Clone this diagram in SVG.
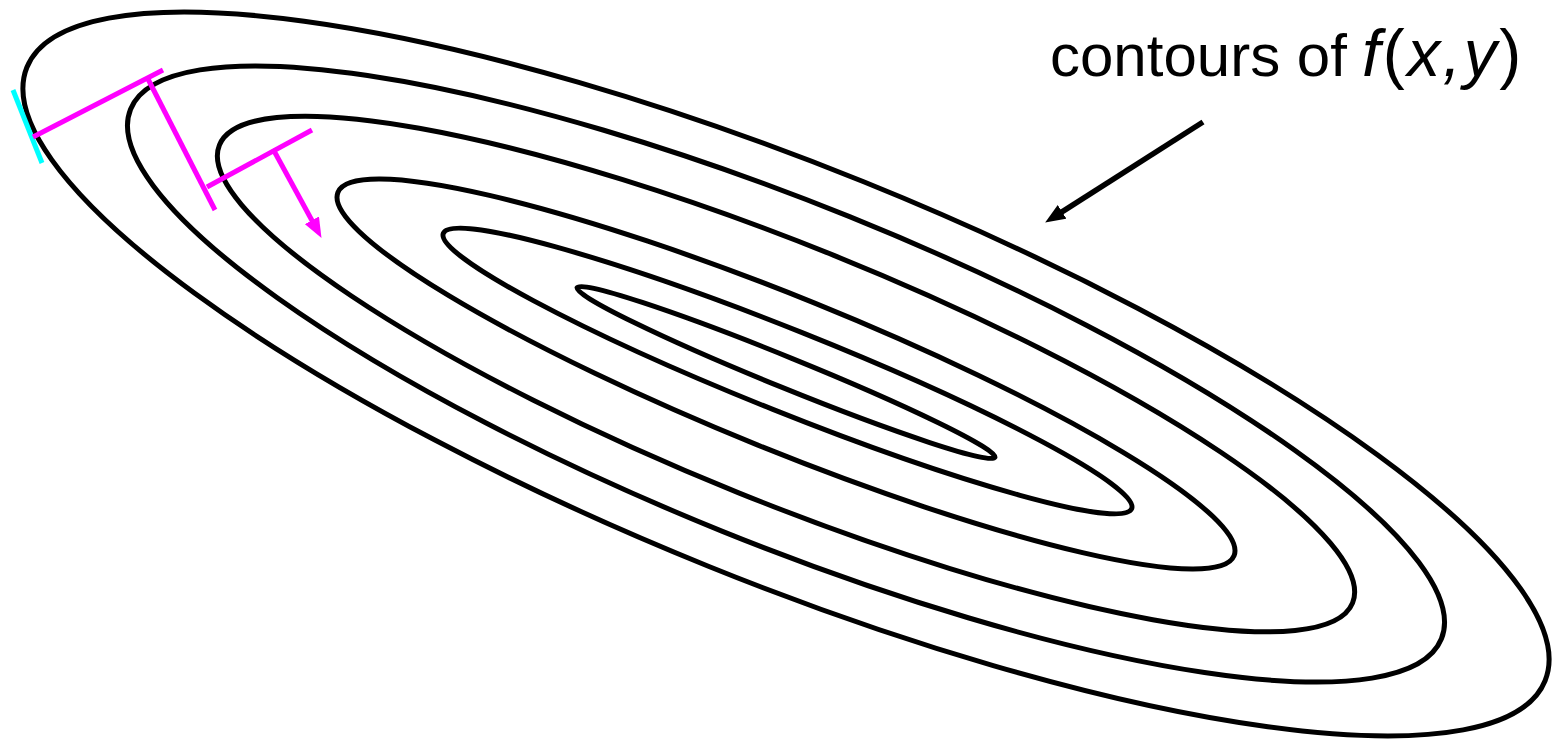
<svg xmlns="http://www.w3.org/2000/svg" width="1552" height="739" viewBox="0 0 1552 739">
<style>
.contour{fill:none;stroke:#000;stroke-width:5}
.step{stroke:#ff00ff;stroke-width:5;fill:none}
.tangent{stroke:#00ffff;stroke-width:5;fill:none}
.pointer{stroke:#000;stroke-width:5.5;fill:none}
.label{font-family:"Liberation Sans",Arial,sans-serif;fill:#000}
.words{font-size:60px}
.math{font-size:66px;letter-spacing:2.5px}
</style>
<defs>
<marker id="ahBlack" viewBox="0 0 20 16" markerWidth="20" markerHeight="16" refX="1" refY="8" orient="auto" markerUnits="userSpaceOnUse"><path d="M0,0 L20,8 L0,16 Z" fill="#000"/></marker>
<marker id="ahMag" viewBox="0 0 20 16" markerWidth="20" markerHeight="16" refX="1" refY="8" orient="auto" markerUnits="userSpaceOnUse"><path d="M0,0 L20,8 L0,16 Z" fill="#ff00ff"/></marker>
</defs>
<rect width="1552" height="739" fill="#fff"/>
<g id="contour-1"><ellipse class="contour" cx="786" cy="374" rx="818.7" ry="207.3" transform="rotate(22 786 374)"/></g>
<g id="contour-2"><ellipse class="contour" cx="786" cy="374" rx="706.9" ry="169.7" transform="rotate(22 786 374)"/></g>
<g id="contour-3"><ellipse class="contour" cx="786" cy="374" rx="611.1" ry="127.9" transform="rotate(22 786 374)"/></g>
<g id="contour-4"><ellipse class="contour" cx="786" cy="374" rx="483.5" ry="76.5" transform="rotate(22.07 786 374)"/></g>
<g id="contour-5"><ellipse class="contour" cx="787.5" cy="371" rx="370.7" ry="41.1" transform="rotate(21.8 787.5 371)"/></g>
<g id="contour-6"><ellipse class="contour" cx="786" cy="372.5" rx="225.5" ry="15.3" transform="rotate(22.1 786 372.5)"/></g>
<g id="tangent"><line class="tangent" x1="13" y1="90" x2="42" y2="163"/></g>
<g id="label"><text class="label words" x="1050" y="76">contours of</text><text class="label math" x="1362" y="76"><tspan font-style="italic">f</tspan>(<tspan font-style="italic">x,y</tspan>)</text></g>
<g id="connectors">
<line class="step" x1="33" y1="137" x2="163" y2="70"/>
<line class="step" x1="148" y1="79" x2="215" y2="210"/>
<line class="step" x1="207" y1="187" x2="312" y2="130"/>
<line class="step" x1="273" y1="149" x2="312.4" y2="221.2" marker-end="url(#ahMag)"/>
<line class="pointer" x1="1203" y1="122" x2="1061.2" y2="212.4" marker-end="url(#ahBlack)"/>
</g>
</svg>
